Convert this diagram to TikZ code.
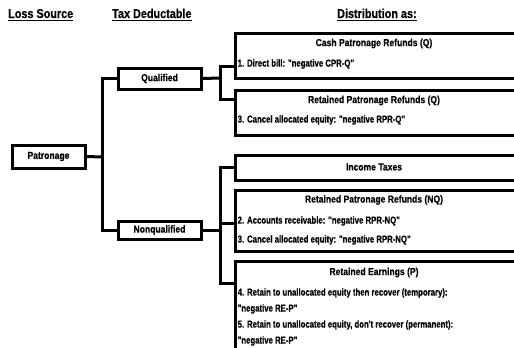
\documentclass[tikz,border=0pt]{standalone}
\usepackage{fontspec}
\setmainfont{Liberation Sans}[FakeStretch=0.84, BoldFeatures={FakeBold=0.4}]
\newfontfamily\linefont{Liberation Sans}[FakeStretch=0.77, BoldFeatures={FakeBold=0.4}]
\usetikzlibrary{fit}
\begin{document}
\begin{tikzpicture}[x=1pt,y=-1pt,
  box/.style={draw,line width=3pt,inner sep=0pt},
  conn/.style={line width=3pt},
  head/.style={inner sep=0pt,anchor=base west,font=\fontsize{12.9}{14}\selectfont\bfseries},
  txt/.style={inner sep=0pt,font=\fontsize{10.2}{11}\selectfont\bfseries},
  ttl/.style={txt,anchor=center},
  lin/.style={inner sep=0pt,anchor=west,font=\linefont\fontsize{10.1}{11}\selectfont\bfseries},
  uline/.style={line width=1.3pt}]
\useasboundingbox (0,0) rectangle (514,348);
% headings
\node[head] (h1) at (8,18) {Loss Source};
\node[head] (h2) at (112,18) {Tax Deductable};
\node[head] (h3) at (337,18) {Distribution as:};
\foreach \h in {h1,h2,h3}
  \draw[uline] ([yshift=-2.6pt]\h.base west) -- ([yshift=-2.6pt]\h.base east);
% left boxes
\node[box,fit={(12,145) (85,168)}] (pat) {};
\node[ttl] (patt) at (pat.center) {Patronage};
\node[box,fit={(118,68) (201,89)}] (qual) {};
\node[ttl] (qualt) at (qual.center) {Qualified};
\node[box,fit={(118,221) (201,239)}] (nonq) {};
\node[ttl] (nonqt) at (nonq.center) {Nonqualified};
% right boxes
\node[box,fit={(235,33) (540,78)}] (b1) {};
\node[box,fit={(235,90) (540,135)}] (b2) {};
\node[box,fit={(235,155) (540,180)}] (b3) {};
\node[box,fit={(235,190) (540,251)}] (b4) {};
\node[box,fit={(235,261) (540,370)}] (b5) {};
% texts
\node[ttl] (b1t) at (374,43.5) {Cash Patronage Refunds (Q)};
\node[lin] (b1a) at (237.5,64) {1. Direct bill: "negative CPR-Q"};
\node[ttl] (b2t) at (374,100.5) {Retained Patronage Refunds (Q)};
\node[lin] (b2a) at (237.5,120) {3. Cancel allocated equity: "negative RPR-Q"};
\node[ttl] (b3t) at (374,167) {Income Taxes};
\node[ttl] (b4t) at (374,200) {Retained Patronage Refunds (NQ)};
\node[lin] (b4a) at (237.5,221) {2. Accounts receivable: "negative RPR-NQ"};
\node[lin] (b4b) at (237.5,240) {3. Cancel allocated equity: "negative RPR-NQ"};
\node[ttl] (b5t) at (374,272.5) {Retained Earnings (P)};
\node[lin] (b5a) at (237.5,293) {4. Retain to unallocated equity then recover (temporary):};
\node[lin] (b5b) at (237.5,309) {"negative RE-P"};
\node[lin] (b5c) at (237.5,325) {5. Retain to unallocated equity, don't recover (permanent):};
\node[lin] (b5d) at (237.5,341) {"negative RE-P"};
% connectors
\coordinate (j1) at (102,157);
\coordinate (j2) at (220,78);
\coordinate (q1) at (220,66);
\coordinate (q2) at (220,99);
\coordinate (n0) at (220,230);
\coordinate (n1) at (220,167.5);
\coordinate (n2) at (220,223);
\coordinate (n3) at (220,283);
\draw[conn] (pat.east) -- (j1);
\draw[conn] (qual.west) -| (j1) |- (nonq.west);
\draw[conn] (qual.east) -- (j2);
\draw[conn] (q1 -| b1.west) -- (q1) -- (q2) -- (q2 -| b2.west);
\draw[conn] (nonq.east) -- (n0);
\draw[conn] (b3.west) -- (n1) -- (n3) -- (n3 -| b5.west);
\draw[conn] (n2) -- (n2 -| b4.west);
\end{tikzpicture}
\end{document}
